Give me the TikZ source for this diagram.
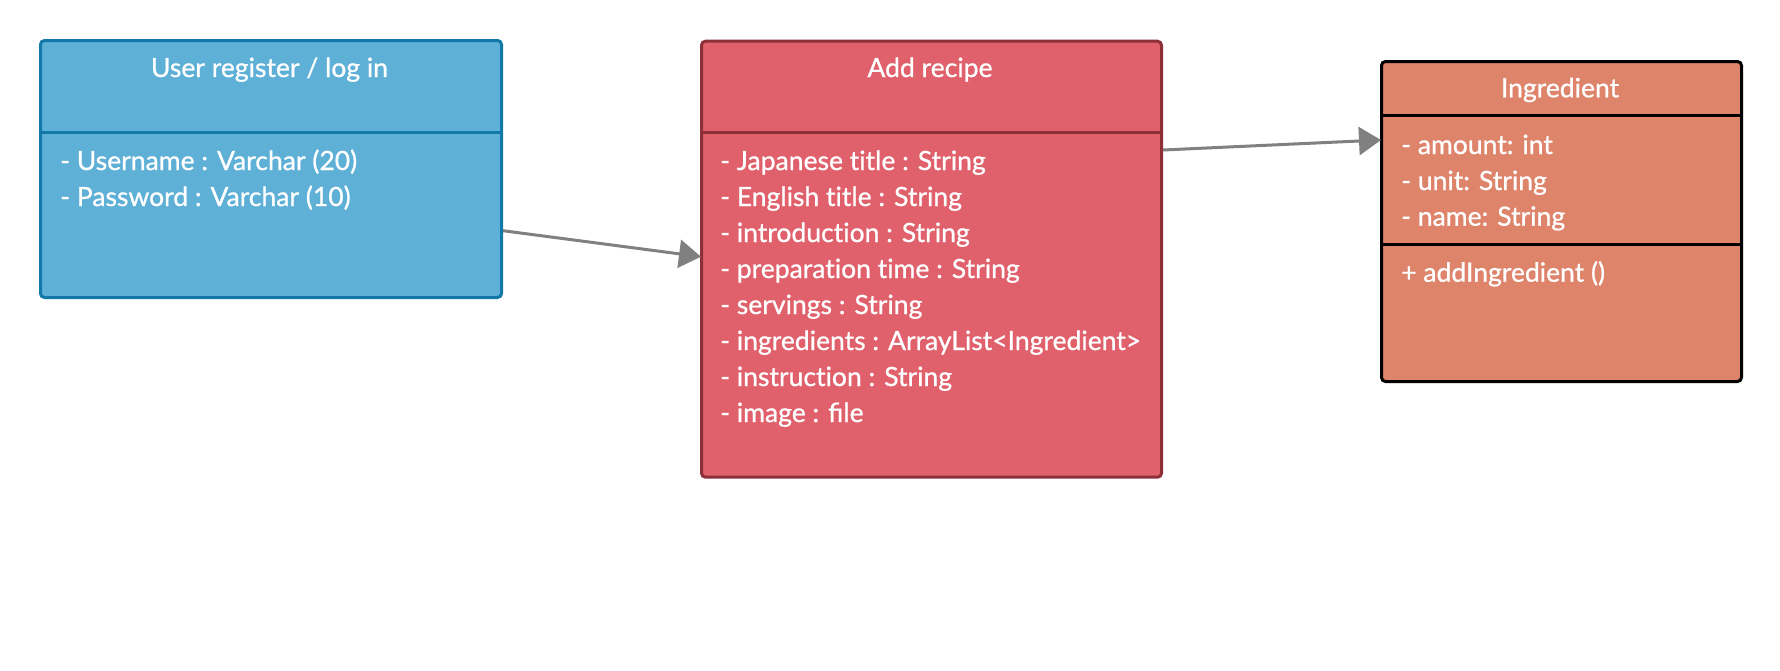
\documentclass[tikz,border=0pt]{standalone}
\usepackage{fontspec}
\setmainfont{Lato}[FakeBold=0.8]
\usetikzlibrary{arrows.meta,calc}
\definecolor{bluefill}{HTML}{5EB0D6}
\definecolor{blueline}{HTML}{1379A9}
\definecolor{redfill}{HTML}{E0616B}
\definecolor{redline}{HTML}{8C2F39}
\definecolor{ingfill}{HTML}{DE846B}
\definecolor{ingline}{HTML}{000000}
\definecolor{arrowgray}{HTML}{808080}
\newcommand\nolig{\kern0pt}
\begin{document}
\begin{tikzpicture}[x=1pt,y=-1pt,
  box/.style={draw, line width=3pt, rounded corners=4pt, anchor=north west, inner sep=0pt},
  ttl/.style={text=white, font=\fontsize{26.5}{36}\selectfont, inner sep=0pt, anchor=base},
  attr/.style={text=white, font=\fontsize{26.5}{36}\selectfont, inner sep=0pt, anchor=base west},
  divider/.style={line width=3pt},
  arr/.style={draw=arrowgray, line width=3pt, -{Triangle[length=22pt,width=28pt]}}]
\useasboundingbox (0,0) rectangle (1780,670);

% User box
\node[box, draw=blueline, fill=bluefill, minimum width=461pt, minimum height=257pt] (user) at (39,39) {};
\draw[divider, blueline] ($(user.north west)+(0,93.3)$) -- ($(user.north east)+(0,93.3)$);
\node[ttl] (usert) at (269.5,77) {User register / log in};
\node[attr] (u1) at (60,170) {- Username : Varchar (20)};
\node[attr] (u2) at (60,206) {- Password : Varchar (10)};

% Recipe box
\node[box, draw=redline, fill=redfill, minimum width=460pt, minimum height=436pt] (recipe) at (700,39.7) {};
\draw[divider, redline] ($(recipe.north west)+(0,92.6)$) -- ($(recipe.north east)+(0,92.6)$);
\node[ttl] (recipet) at (930,77) {Add recipe};
\node[attr] (r1) at (720,170) {- Japanese t\nolig itle : String};
\node[attr] (r2) at (720,206) {- English t\nolig itle : String};
\node[attr] (r3) at (720,242) {- introduct\nolig ion : String};
\node[attr] (r4) at (720,278) {- preparat\nolig ion t\nolig ime : String};
\node[attr] (r5) at (720,314) {- servings : String};
\node[attr] (r6) at (720,350) {- ingredients : ArrayList<Ingredient>};
\node[attr] (r7) at (720,386) {- instruct\nolig ion : String};
\node[attr] (r8) at (720,422) {- image : file};

% Ingredient box
\node[box, draw=ingline, fill=ingfill, minimum width=360pt, minimum height=320pt] (ing) at (1380,60) {};
\draw[divider, ingline] ($(ing.north west)+(0,55.3)$) -- ($(ing.north east)+(0,55.3)$);
\draw[divider, ingline] ($(ing.north west)+(0,184.3)$) -- ($(ing.north east)+(0,184.3)$);
\node[ttl] (ingt) at (1560,97.3) {Ingredient};
\node[attr] (i1) at (1401,154) {- amount: int};
\node[attr] (i2) at (1401,190) {- unit: String};
\node[attr] (i3) at (1401,225.7) {- name: String};
\node[attr] (i4) at (1401,281.7) {+ addIngredient ()};

% Connectors
\draw[arr] ($(user.north east)+(0,191.7)$) -- ($(recipe.north west)+(1,217)$);
\draw[arr] ($(recipe.north east)+(0,110.3)$) -- ($(ing.north west)+(1,80)$);
\end{tikzpicture}
\end{document}
